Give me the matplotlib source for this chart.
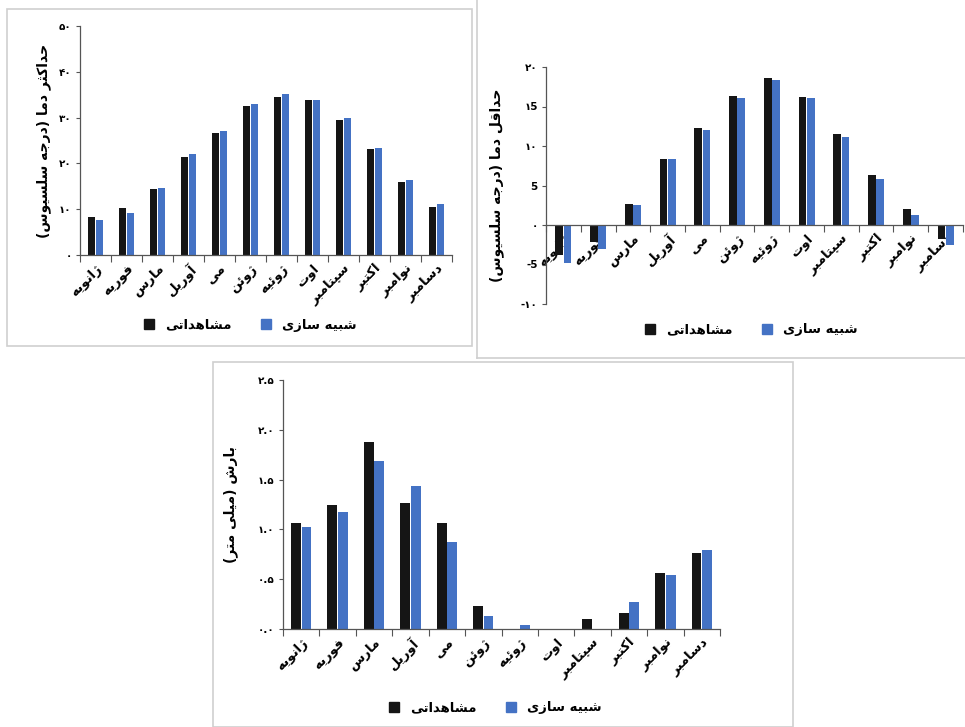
"""Observed vs simulated monthly climate: max temp, min temp and precipitation."""
import numpy as np
import matplotlib
matplotlib.use("Agg")
import matplotlib.pyplot as plt
from matplotlib.patches import Rectangle
from matplotlib.lines import Line2D

months = ["ژانویه", "فوریه", "مارس", "آوریل", "می", "ژوئن",
          "ژوئیه", "اوت", "سپتامبر", "اکتبر", "نوامبر", "دسامبر"]
legend_labels = ["مشاهداتی", "شبیه سازی"]

tmax_obs = [8.2, 10.2, 14.5, 21.5, 26.7, 32.5, 34.6, 33.8, 29.5, 23.1, 16.0, 10.5]
tmax_sim = [7.6, 9.2, 14.6, 22.1, 27.1, 33.0, 35.2, 33.8, 29.9, 23.3, 16.3, 11.1]
tmax_ticks = ["۰", "۱۰", "۲۰", "۳۰", "۴۰", "۵۰"]

tmin_obs = [-3.8, -2.1, 2.7, 8.3, 12.25, 16.3, 18.65, 16.25, 11.5, 6.3, 2.0, -1.8]
tmin_sim = [-4.8, -3.0, 2.5, 8.3, 12.0, 16.1, 18.4, 16.1, 11.15, 5.8, 1.3, -2.5]
tmin_ticks = ["-۱۰", "-5", "۰", "5", "۱۰", "۱5", "۲۰"]

prec_obs = [1.06, 1.24, 1.88, 1.27, 1.06, 0.235, 0.0, 0.0, 0.097, 0.16, 0.566, 0.764]
prec_sim = [1.025, 1.17, 1.686, 1.434, 0.87, 0.134, 0.037, 0.0, 0.0, 0.268, 0.54, 0.79]
prec_ticks = ["۰.۰", "۰.۵", "۱.۰", "۱.۵", "۲.۰", "۲.۵"]

C_OBS = "#151515"
C_SIM = "#4472c4"

# matplotlib has no arabic shaping, so pick presentation forms by hand
# (isolated, final, initial, medial)
FORMS = {
    "\u0627": ("\uFE8D", "\uFE8E", None, None),
    "\u0622": ("\uFE81", "\uFE82", None, None),
    "\u0628": ("\uFE8F", "\uFE90", "\uFE91", "\uFE92"),
    "\u067E": ("\uFB56", "\uFB57", "\uFB58", "\uFB59"),
    "\u062A": ("\uFE95", "\uFE96", "\uFE97", "\uFE98"),
    "\u062B": ("\uFE99", "\uFE9A", "\uFE9B", "\uFE9C"),
    "\u062C": ("\uFE9D", "\uFE9E", "\uFE9F", "\uFEA0"),
    "\u062D": ("\uFEA1", "\uFEA2", "\uFEA3", "\uFEA4"),
    "\u062F": ("\uFEA9", "\uFEAA", None, None),
    "\u0631": ("\uFEAD", "\uFEAE", None, None),
    "\u0632": ("\uFEAF", "\uFEB0", None, None),
    "\u0698": ("\uFB8A", "\uFB8B", None, None),
    "\u0633": ("\uFEB1", "\uFEB2", "\uFEB3", "\uFEB4"),
    "\u0634": ("\uFEB5", "\uFEB6", "\uFEB7", "\uFEB8"),
    "\u0641": ("\uFED1", "\uFED2", "\uFED3", "\uFED4"),
    "\u0642": ("\uFED5", "\uFED6", "\uFED7", "\uFED8"),
    "\u06A9": ("\uFB8E", "\uFB8F", "\uFB90", "\uFB91"),
    "\u0644": ("\uFEDD", "\uFEDE", "\uFEDF", "\uFEE0"),
    "\u0645": ("\uFEE1", "\uFEE2", "\uFEE3", "\uFEE4"),
    "\u0646": ("\uFEE5", "\uFEE6", "\uFEE7", "\uFEE8"),
    "\u0647": ("\uFEE9", "\uFEEA", "\uFEEB", "\uFEEC"),
    "\u0648": ("\uFEED", "\uFEEE", None, None),
    "\u06CC": ("\uFBFC", "\uFBFD", "\uFBFE", "\uFBFF"),
    "\u0626": ("\uFE89", "\uFE8A", "\uFE8B", "\uFE8C"),
}


def fa(text):
    text = text.replace("\u064A", "\u06CC").replace("\u0643", "\u06A9")
    out = []
    for i, ch in enumerate(text):
        if ch not in FORMS:
            out.append(ch)
            continue
        prev = text[i - 1] if i > 0 else ""
        nxt = text[i + 1] if i + 1 < len(text) else ""
        join_prev = prev in FORMS and FORMS[prev][2] is not None
        join_next = FORMS[ch][2] is not None and nxt in FORMS
        isol, fina, init, medi = FORMS[ch]
        if join_prev and join_next:
            out.append(medi)
        elif join_prev:
            out.append(fina)
        elif join_next:
            out.append(init)
        else:
            out.append(isol)
    vis = "".join(reversed(out))
    return vis.translate(str.maketrans("()", ")("))


plt.rcParams["font.family"] = ["DejaVu Sans"]
plt.rcParams["font.weight"] = "bold"

W, H = 965, 727
fig = plt.figure(figsize=(W / 100, H / 100), dpi=100)


def px_axes(x0, x1, ytop, ybot):
    return fig.add_axes([x0 / W, 1 - ybot / H, (x1 - x0) / W, (ybot - ytop) / H])


def px_rect(x0, y0, x1, y1):
    fig.patches.append(Rectangle((x0 / W, 1 - y1 / H), (x1 - x0) / W, (y1 - y0) / H,
                                 transform=fig.transFigure, fill=False,
                                 edgecolor="#cfcfcf", lw=1.2, zorder=0))


def bars(ax, obs, sim, width, ylim, yticks, ylabel, labelpad, zero_axis=False):
    # spine position has to go first, it resets the tick label styling
    if zero_axis:
        ax.spines["bottom"].set_position(("data", 0))
    x = np.arange(len(months))
    ax.bar(x - width / 2 - 0.01, obs, width, color=C_OBS, zorder=2)
    ax.bar(x + width / 2 + 0.01, sim, width, color=C_SIM, zorder=2)
    ax.set_xlim(-0.5, len(months) - 0.5)
    ax.set_ylim(*ylim)
    ax.set_yticks(np.linspace(ylim[0], ylim[1], len(yticks)))
    ax.set_yticklabels(yticks, fontsize=7.5, fontweight="bold")
    ax.set_xticks(x)
    ax.set_xticklabels([fa(m) for m in months], rotation=45, ha="right",
                       va="top", rotation_mode="anchor", fontsize=9.5,
                       fontweight="bold")
    ax.set_xticks(np.arange(len(months) + 1) - 0.5, minor=True)
    ax.tick_params(axis="x", which="major", length=0, pad=5)
    ax.tick_params(axis="x", which="minor", length=5, width=0.8, color="#555555")
    ax.tick_params(axis="y", length=3, width=0.8, color="#555555", pad=3)
    for s in ("top", "right"):
        ax.spines[s].set_visible(False)
    for s in ("left", "bottom"):
        ax.spines[s].set_color("#555555")
        ax.spines[s].set_linewidth(0.9)
    ax.set_ylabel(fa(ylabel), fontsize=10, fontweight="bold", labelpad=labelpad)
    ax.set_facecolor("none")


def legend(cx, cy):
    handles = [Line2D([], [], ls="", marker="s", ms=7.5, color=c) for c in (C_OBS, C_SIM)]
    fig.legend(handles, [fa(t) for t in legend_labels], loc="center",
               bbox_to_anchor=(cx / W, 1 - cy / H), ncol=2, frameon=False,
               handletextpad=0.2, columnspacing=1.6,
               prop={"weight": "bold", "size": 9.5})


# panel frames
px_rect(7, 9, 472, 346)
fig.add_artist(Line2D([477 / W, 477 / W], [1, 1 - 358 / H], color="#cfcfcf", lw=1.2))
fig.add_artist(Line2D([477 / W, 1], [1 - 358 / H, 1 - 358 / H], color="#cfcfcf", lw=1.2))
px_rect(213, 362, 793, 727)

ax1 = px_axes(80, 452, 26, 255)
bars(ax1, tmax_obs, tmax_sim, 0.23, (0, 50), tmax_ticks,
     "حداکثر دما (درجه سلسیوس)", 6)
legend(246, 325)

ax2 = px_axes(546, 963, 67, 304)
bars(ax2, tmin_obs, tmin_sim, 0.22, (-10, 20), tmin_ticks,
     "حداقل دما (درجه سلسیوس)", 12, zero_axis=True)
legend(747, 330)

ax3 = px_axes(283, 720, 380, 629)
bars(ax3, prec_obs, prec_sim, 0.27, (0, 2.5), prec_ticks,
     "بارش (میلی متر)", 14)
legend(491, 708)

fig.savefig("out.png", dpi=100)
